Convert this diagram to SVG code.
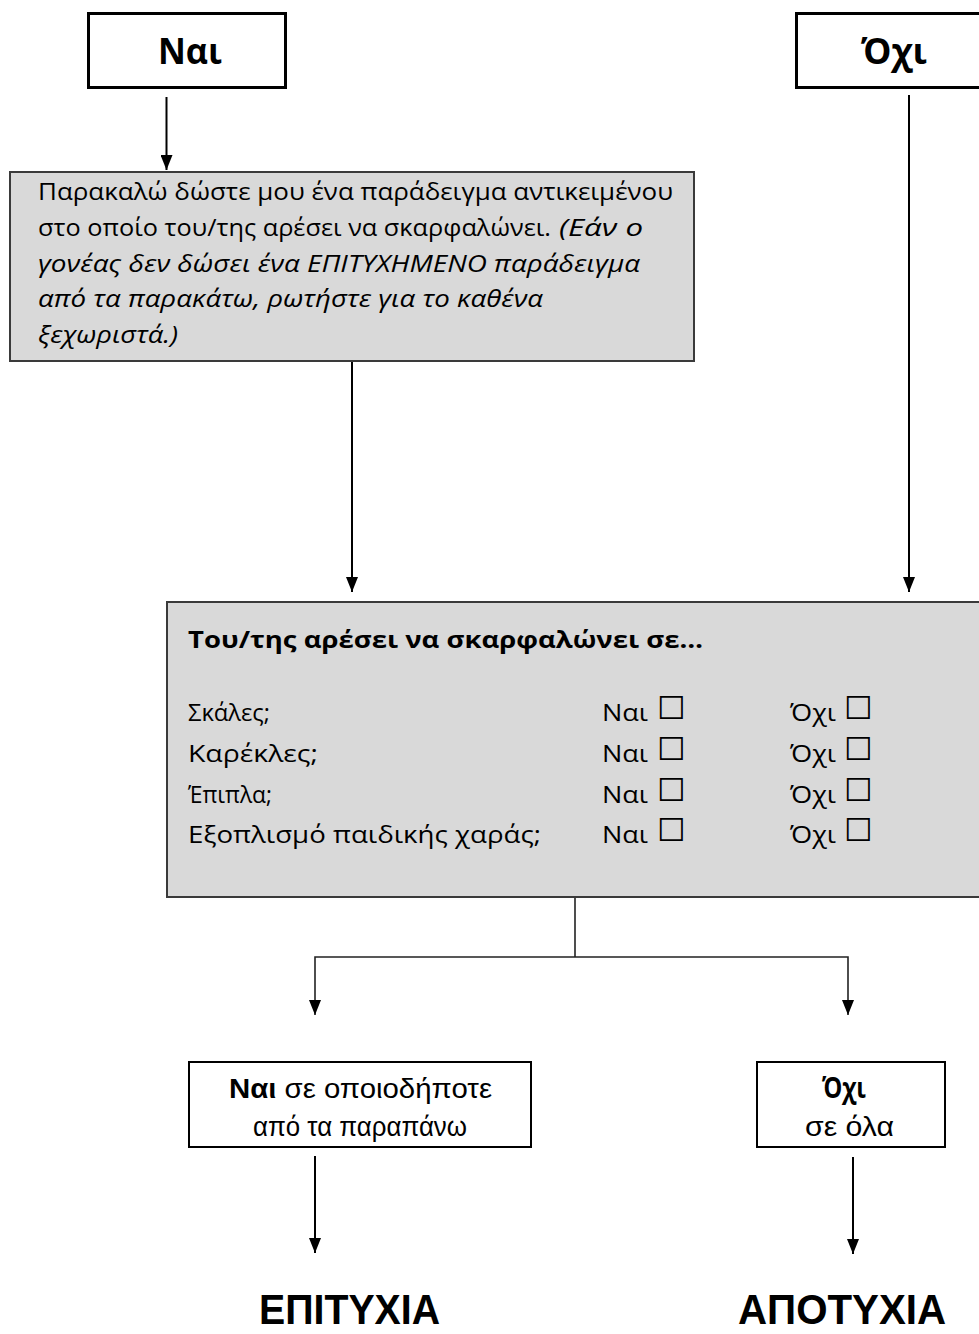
<svg xmlns="http://www.w3.org/2000/svg" width="979" height="1334" viewBox="0 0 979 1334">
<defs>
<marker id="ah" viewBox="0 0 15 12" refX="15" refY="6" markerWidth="15" markerHeight="12" markerUnits="userSpaceOnUse" orient="auto-start-reverse">
<path d="M0,0 L15,6 L0,12 Z" fill="#000"/>
</marker>
<style>
.frame{fill:#fff;stroke:#000;stroke-width:3}
.thin{fill:#fff;stroke:#000;stroke-width:2}
.gray{fill:#d9d9d9;stroke:#3a3a3a;stroke-width:2}
.cal{font-family:"Open Sans","Noto Sans","DejaVu Sans",sans-serif;fill:#000}
.nar{font-family:"Liberation Sans",Arial,sans-serif;fill:#000}
.it{font-style:italic}
.b{font-weight:bold}
.box{font-family:"DejaVu Sans",sans-serif;fill:#000}
.con{fill:none;stroke:#000;stroke-width:2}
.con2{fill:none;stroke:#222;stroke-width:1.6}
</style>
</defs>
<rect width="979" height="1334" fill="#fff"/>

<g id="connectors">
<line class="con" x1="166.5" y1="97" x2="166.5" y2="170" marker-end="url(#ah)"/>
<line class="con" x1="909" y1="95" x2="909" y2="592" marker-end="url(#ah)"/>
<line class="con" x1="352" y1="362" x2="352" y2="592" marker-end="url(#ah)"/>
<polyline class="con2" points="575,897 575,957"/>
<polyline class="con2" points="315,1015 315,957 848,957 848,1015" marker-start="url(#ah)" marker-end="url(#ah)"/>
<line class="con" x1="315" y1="1156" x2="315" y2="1253" marker-end="url(#ah)"/>
<line class="con" x1="853" y1="1157" x2="853" y2="1254" marker-end="url(#ah)"/>
</g>

<g id="node-nai">
<rect class="frame" x="88.5" y="13.5" width="197" height="74"/>
<text class="cal b" x="190" y="64" font-size="36" text-anchor="middle" textLength="64" lengthAdjust="spacingAndGlyphs">Ναι</text>
</g>

<g id="node-ochi">
<rect class="frame" x="796.5" y="13.5" width="200" height="74"/>
<text class="cal b" x="894" y="64" font-size="36" text-anchor="middle" textLength="66" lengthAdjust="spacingAndGlyphs">Όχι</text>
</g>

<g id="node-question">
<rect class="gray" x="10" y="172" width="684" height="189"/>
<text class="cal" x="38" y="200" font-size="24" textLength="635" lengthAdjust="spacingAndGlyphs">Παρακαλώ δώστε μου ένα παράδειγμα αντικειμένου</text>
<text class="cal" x="38" y="236" font-size="24" textLength="513" lengthAdjust="spacingAndGlyphs">στο οποίο του/της αρέσει να σκαρφαλώνει.</text>
<text class="cal it" x="559" y="236" font-size="24" textLength="84" lengthAdjust="spacingAndGlyphs">(Εάν ο</text>
<text class="cal it" x="38" y="272" font-size="24" textLength="602" lengthAdjust="spacingAndGlyphs">γονέας δεν δώσει ένα ΕΠΙΤΥΧΗΜΕΝΟ παράδειγμα</text>
<text class="cal it" x="38" y="307" font-size="24" textLength="505" lengthAdjust="spacingAndGlyphs">από τα παρακάτω, ρωτήστε για το καθένα</text>
<text class="cal it" x="38" y="343" font-size="24" textLength="140" lengthAdjust="spacingAndGlyphs">ξεχωριστά.)</text>
</g>

<g id="node-checklist">
<rect class="gray" x="167" y="602" width="830" height="295"/>
<text class="cal b" x="188" y="648" font-size="24" textLength="515" lengthAdjust="spacingAndGlyphs">Του/της αρέσει να σκαρφαλώνει σε…</text>
<text class="cal" x="188" y="721" font-size="24" textLength="82" lengthAdjust="spacingAndGlyphs">Σκάλες;</text>
<text class="cal" x="188" y="762" font-size="24" textLength="130" lengthAdjust="spacingAndGlyphs">Καρέκλες;</text>
<text class="cal" x="188" y="803" font-size="24" textLength="84" lengthAdjust="spacingAndGlyphs">Έπιπλα;</text>
<text class="cal" x="188" y="843" font-size="24" textLength="353" lengthAdjust="spacingAndGlyphs">Εξοπλισμό παιδικής χαράς;</text>
<g class="cal" font-size="24">
<text x="602" y="721" textLength="46" lengthAdjust="spacingAndGlyphs">Ναι</text>
<text x="602" y="762" textLength="46" lengthAdjust="spacingAndGlyphs">Ναι</text>
<text x="602" y="803" textLength="46" lengthAdjust="spacingAndGlyphs">Ναι</text>
<text x="602" y="843" textLength="46" lengthAdjust="spacingAndGlyphs">Ναι</text>
<text x="790" y="721" textLength="46" lengthAdjust="spacingAndGlyphs">Όχι</text>
<text x="790" y="762" textLength="46" lengthAdjust="spacingAndGlyphs">Όχι</text>
<text x="790" y="803" textLength="46" lengthAdjust="spacingAndGlyphs">Όχι</text>
<text x="790" y="843" textLength="46" lengthAdjust="spacingAndGlyphs">Όχι</text>
</g>
<g class="box" font-size="32">
<text x="657" y="719">☐</text>
<text x="657" y="760">☐</text>
<text x="657" y="801">☐</text>
<text x="657" y="841">☐</text>
<text x="844" y="719">☐</text>
<text x="844" y="760">☐</text>
<text x="844" y="801">☐</text>
<text x="844" y="841">☐</text>
</g>
</g>

<g id="node-yes-any">
<rect class="thin" x="189" y="1062" width="342" height="85"/>
<text class="nar" x="229" y="1098" font-size="27" textLength="263" lengthAdjust="spacingAndGlyphs"><tspan class="b">Ναι</tspan> σε οποιοδήποτε</text>
<text class="nar" x="253" y="1136" font-size="27" textLength="214" lengthAdjust="spacingAndGlyphs">από τα παραπάνω</text>
</g>

<g id="node-no-all">
<rect class="thin" x="757" y="1062" width="188" height="85"/>
<text class="cal b" x="844" y="1098" font-size="28" text-anchor="middle" textLength="44" lengthAdjust="spacingAndGlyphs">Όχι</text>
<text class="nar" x="805" y="1136" font-size="27" textLength="89" lengthAdjust="spacingAndGlyphs">σε όλα</text>
</g>

<g id="node-success">
<text class="nar b" x="259" y="1324" font-size="43" textLength="181" lengthAdjust="spacingAndGlyphs">ΕΠΙΤΥΧΙΑ</text>
</g>

<g id="node-failure">
<text class="nar b" x="738" y="1324" font-size="43" textLength="208" lengthAdjust="spacingAndGlyphs">ΑΠΟΤΥΧΙΑ</text>
</g>
</svg>
